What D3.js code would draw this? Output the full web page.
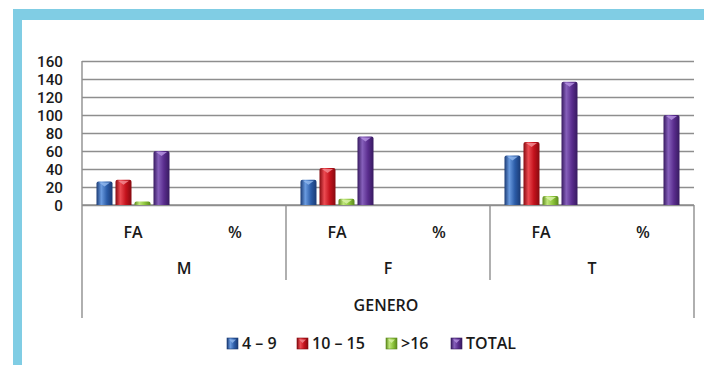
<!DOCTYPE html>
<html>
<head>
<meta charset="utf-8">
<script src="https://cdn.jsdelivr.net/npm/d3@7"></script>
<style>
  html, body { margin: 0; padding: 0; background: #ffffff; }
  svg { display: block; }
  text { font-family: "Open Sans", "Liberation Sans", sans-serif; font-weight: 600; fill: #1a1a1a; }
  .value-axis text { font-family: Roboto, "Liberation Sans", sans-serif; font-weight: 500; }
</style>
</head>
<body>
<svg id="chart" width="704" height="365"></svg>
<script>
// Groups on the category axis (outer level = gender, inner level = measure)
const genders = ["M", "F", "T"];
const measures = ["FA", "%"];
const axisTitle = "GENERO";

// Series (age ranges) and their values per gender/measure: M-FA, M-%, F-FA, F-%, T-FA, T-%
const series = ["4 – 9", "10 – 15", ">16", "TOTAL"];
const age4to9 = [26, null, 28, null, 55, null];
const age10to15 = [28, null, 41, null, 70, null];
const ageOver16 = [4, null, 7, null, 10, null];
const total = [60, null, 76, null, 137, 100];

const yTicks = [0, 20, 40, 60, 80, 100, 120, 140, 160];

const seriesValues = [age4to9, age10to15, ageOver16, total];
const palette = [
  { base: "#2b5ca8", light: "#6a9be0", dark: "#1a3a74", cap: "#8fb6ec" },
  { base: "#c4121c", light: "#ec4b52", dark: "#860a10", cap: "#f28a90" },
  { base: "#8cc43a", light: "#bfe67a", dark: "#5c8a1c", cap: "#d9f2a8" },
  { base: "#5a2d8e", light: "#8660bb", dark: "#371a60", cap: "#b592e0" }
];

const svg = d3.select("#chart");

// Light-blue frame along the top and left edges
svg.append("rect").attr("x", 13).attr("y", 9).attr("width", 691).attr("height", 11).attr("fill", "#80cde4");
svg.append("rect").attr("x", 13).attr("y", 9).attr("width", 9).attr("height", 356).attr("fill", "#80cde4");

const plotLeft = 82, plotRight = 694, plotTop = 61, baseY = 205, axisBottom = 318, dividerBottom = 280;

const x0 = d3.scaleBand().domain(genders).range([plotLeft, plotRight]);
const x1 = d3.scaleBand().domain(measures).range([0, x0.bandwidth()]);
const x2 = d3.scaleBand().domain(series).range([0, x1.bandwidth()])
  .paddingInner(0.158).paddingOuter(0.763);
const y = d3.scaleLinear().domain([0, 160]).range([baseY, plotTop]);

// Gradients giving the bars a rounded, cylinder-like shading
const defs = svg.append("defs");
palette.forEach((c, i) => {
  const g = defs.append("linearGradient").attr("id", "bar" + i)
    .attr("x1", "0").attr("x2", "1").attr("y1", "0").attr("y2", "0");
  g.append("stop").attr("offset", "0").attr("stop-color", c.dark);
  g.append("stop").attr("offset", "0.3").attr("stop-color", c.light);
  g.append("stop").attr("offset", "0.65").attr("stop-color", c.base);
  g.append("stop").attr("offset", "1").attr("stop-color", c.dark);
});

// Gridlines and value labels
const yAxis = svg.append("g").attr("class", "value-axis").attr("transform", `translate(${plotLeft},0)`)
  .call(d3.axisLeft(y).tickValues(yTicks).tickSize(-(plotRight - plotLeft)).tickPadding(19));
yAxis.select(".domain").remove();
yAxis.selectAll(".tick line").attr("stroke", "#8e8e8e").attr("stroke-width", 1.6);
yAxis.selectAll(".tick text").style("font-size", "15.2px").attr("dy", "0.36em");

// Category axis frame
const axisG = svg.append("g").attr("stroke", "#8e8e8e").attr("stroke-width", 1.4);
axisG.append("line").attr("x1", plotLeft).attr("x2", plotRight).attr("y1", baseY).attr("y2", baseY);
axisG.append("line").attr("x1", plotLeft).attr("x2", plotLeft).attr("y1", plotTop).attr("y2", axisBottom);
axisG.append("line").attr("x1", plotRight).attr("x2", plotRight).attr("y1", baseY).attr("y2", axisBottom);
genders.slice(1).forEach(gd => {
  axisG.append("line").attr("x1", x0(gd)).attr("x2", x0(gd)).attr("y1", baseY).attr("y2", dividerBottom);
});

// Bars
const cells = [];
genders.forEach((gd, gi) => measures.forEach((m, mi) => cells.push({ gd, m, idx: gi * 2 + mi })));
const barG = svg.append("g");
series.forEach((s, si) => {
  cells.forEach(cell => {
    const v = seriesValues[si][cell.idx];
    if (v == null) return;
    const bx = x0(cell.gd) + x1(cell.m) + x2(s);
    const bw = x2.bandwidth();
    const by = y(v);
    const bh = baseY - by;
    barG.append("path")
      .attr("d", `M${bx},${baseY} V${by + 2} Q${bx},${by} ${bx + 2},${by} H${bx + bw - 2} Q${bx + bw},${by} ${bx + bw},${by + 2} V${baseY} Z`)
      .attr("fill", `url(#bar${si})`);
    if (bh > 5) {
      barG.append("path")
        .attr("d", `M${bx + 2.5},${by + 1} H${bx + bw - 2.5} L${bx + bw / 2},${by + 5} Z`)
        .attr("fill", palette[si].cap).attr("opacity", 0.85);
    }
  });
});

// Category labels
const labelG = svg.append("g").style("font-size", "16px").attr("text-anchor", "middle");
genders.forEach(gd => {
  measures.forEach(m => {
    labelG.append("text").attr("x", x0(gd) + x1(m) + x1.bandwidth() / 2).attr("y", 238).text(m);
  });
  labelG.append("text").attr("x", x0(gd) + x0.bandwidth() / 2).attr("y", 274).text(gd);
});
labelG.append("text").attr("x", (plotLeft + plotRight) / 2 - 2).attr("y", 311).text(axisTitle);

// Legend
const legendX = [227, 297, 386, 451];
const legend = svg.append("g").style("font-size", "16px");
series.forEach((s, i) => {
  const lg = legend.append("g").attr("transform", `translate(${legendX[i]},338)`);
  lg.append("rect").attr("width", 11).attr("height", 11).attr("fill", `url(#bar${i})`)
    .attr("stroke", palette[i].dark).attr("stroke-width", 0.6);
  lg.append("path").attr("d", "M2,1.5 H9 L5.5,5 Z").attr("fill", palette[i].cap).attr("opacity", 0.8);
  lg.append("text").attr("x", 15).attr("y", 11).text(s);
});
</script>
</body>
</html>
